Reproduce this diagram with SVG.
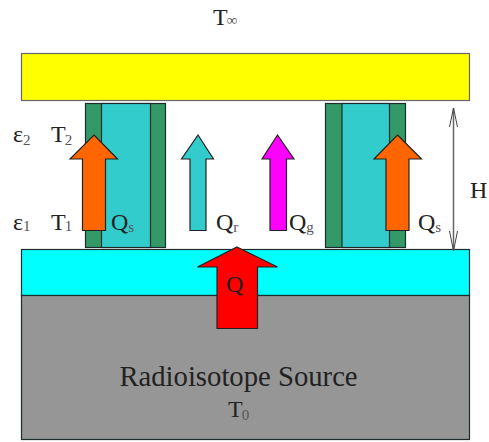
<svg xmlns="http://www.w3.org/2000/svg" width="489" height="442" viewBox="0 0 489 442">
<style>
.b{stroke:#1c2c2c;stroke-width:1.2}
.a{stroke:#222;stroke-width:1.2;stroke-linejoin:miter}
text{font-family:"Liberation Serif","Times New Roman",serif;fill:#222;font-size:24px}
.s{font-size:15px;fill:#555}
</style>
<rect width="489" height="442" fill="#fff"/>
<g id="plate-top"><rect x="21.5" y="53.5" width="448" height="47" fill="#ffff00" stroke="#666" stroke-width="1.2"/></g>
<g id="plate-bottom"><rect x="21.5" y="249.5" width="448" height="46" fill="#00ffff" class="b"/></g>
<g id="source"><rect x="21.5" y="295.5" width="448" height="144" fill="#969696" class="b"/>
<text x="238.500" y="386" text-anchor="middle" style="font-size:28.700px">Radioisotope Source</text>
<text x="228" y="417">T<tspan class="s" dx="-1" dy="3">0</tspan></text></g>
<g id="column-left"><rect x="85.500" y="103.500" width="80" height="144" fill="#339966" class="b"/><rect x="101.500" y="103.500" width="49" height="144" fill="#33cccc" class="b"/></g>
<g id="column-right"><rect x="325.500" y="103.500" width="80" height="144" fill="#339966" class="b"/><rect x="342" y="103.500" width="47.500" height="144" fill="#33cccc" class="b"/></g>
<g id="connectors">
<path class="a" fill="#ff6600" d="M94 135L117.500 159H105.500V230.500H82.500V159H70Z"/>
<path class="a" fill="#33cccc" d="M198 135L213.500 159H206V230.500H190V159H181.500Z"/>
<path class="a" fill="#ff00ff" d="M277.500 135L294 159H286.500V230.500H270V159H262Z"/>
<path class="a" fill="#ff6600" d="M397.500 135L421.500 159H409V230.500H386V159H374Z"/>
<path class="a" fill="#ff0000" d="M237 247L277.500 267H257.500V328.500H217V267H197.500Z"/>
<path d="M453.500 108V250" fill="none" stroke="#666" stroke-width="1.500"/>
<path d="M449.500 127L453.500 108L457.500 127M449.500 231L453.500 251L457.500 231" fill="none" stroke="#444" stroke-width="1"/>
</g>
<g id="labels">
<text x="213" y="25">T<tspan class="s" dx="-1">∞</tspan></text>
<text x="13" y="142">ε<tspan class="s" dy="3">2</tspan></text>
<text x="51" y="142">T<tspan class="s" dx="-1" dy="3">2</tspan></text>
<text x="13" y="230">ε<tspan class="s" dy="1">1</tspan></text>
<text x="51" y="230">T<tspan class="s" dx="-1" dy="1">1</tspan></text>
<text x="111" y="230">Q<tspan class="s" dy="2">s</tspan></text>
<text x="216" y="230">Q<tspan class="s" dy="2">r</tspan></text>
<text x="289" y="230">Q<tspan class="s" dy="2">g</tspan></text>
<text x="418" y="230">Q<tspan class="s" dy="2">s</tspan></text>
<text x="470" y="198">H</text>
<text x="226" y="292">Q</text>
</g>
</svg>
